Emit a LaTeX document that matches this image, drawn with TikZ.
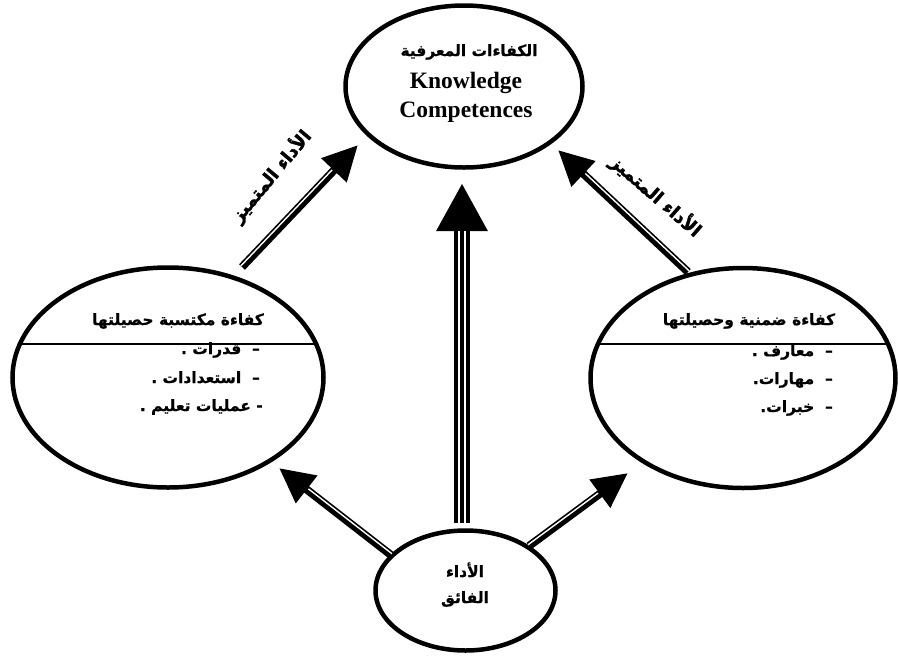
\documentclass[tikz,border=0pt]{standalone}
\usepackage{fontspec}
\setmainfont{Liberation Serif}
\newfontfamily\arabicfont[Script=Arabic, FakeBold=0.8]{DejaVu Sans Bold}
\newfontfamily\arabiclab[Script=Arabic, FakeBold=2]{DejaVu Sans Bold}
\TeXXeTstate=1
\usetikzlibrary{shapes.geometric,arrows.meta,calc}
\begin{document}
\begin{tikzpicture}[x=1pt,y=-1pt,
  oval/.style={draw, line width=4.5pt, ellipse, inner sep=0pt},
  shaft/.style={line width=8pt, -{Triangle[length=35pt,width=33pt]}},
  bigshaft/.style={line width=16pt, -{Triangle[length=48pt,width=48pt]}},
  stripe/.style={white, line width=1.4pt},
  ar/.style={font=\arabicfont\fontsize{15.5}{18}\selectfont, inner sep=0pt},
  artitle/.style={font=\arabicfont\fontsize{15.5}{18}\selectfont, inner sep=0pt},
  arlabel/.style={font=\arabiclab\fontsize{18}{21}\selectfont, inner sep=0pt},
  en/.style={font=\bfseries\fontsize{23.5}{28}\selectfont, inner sep=0pt},
  sep/.style={line width=1.3pt}
]
\useasboundingbox (0,0) rectangle (898,657);

% ellipses
\node[oval, minimum width=237pt, minimum height=162pt] (T) at (464,86.5) {};
\node[oval, minimum width=311pt, minimum height=220pt] (L) at (168,377.5) {};
\node[oval, minimum width=305pt, minimum height=220pt] (R) at (743,378) {};
\node[oval, minimum width=180pt, minimum height=120pt] (B) at (465.5,590.5) {};

% separators
\begin{scope}
  \clip (L.center) ellipse [x radius=155.5, y radius=110];
  \draw[sep] (0,344) -- (898,344);
\end{scope}
\begin{scope}
  \clip (R.center) ellipse [x radius=152.5, y radius=110];
  \draw[sep] (0,344) -- (898,344);
\end{scope}

% arrow end points
\coordinate (sBL) at (391,555);
\coordinate (tBL) at (279,468);
\coordinate (sBR) at (529,546);
\coordinate (tBR) at (628,473);
\coordinate (sM) at (462,523);
\coordinate (tM) at (462,183);
\coordinate (sUL) at (242,267);
\coordinate (tUL) at (358,145);
\coordinate (sUR) at (688,272);
\coordinate (tUR) at (558,150);

% diagonal arrows
\draw[shaft] (sBL) -- (tBL);
\draw[stripe] ($(sBL)!1.6pt!-90:(tBL)$) -- ($($(tBL)!36pt!(sBL)$)!1.6pt!90:(sBL)$);
\draw[shaft] (sBR) -- (tBR);
\draw[stripe] ($(sBR)!1.6pt!90:(tBR)$) -- ($($(tBR)!36pt!(sBR)$)!1.6pt!-90:(sBR)$);
\draw[shaft] (sUL) -- (tUL);
\draw[stripe] ($(sUL)!1.6pt!90:(tUL)$) -- ($($(tUL)!36pt!(sUL)$)!1.6pt!-90:(sUL)$);
\draw[shaft] (sUR) -- (tUR);
\draw[stripe] ($(sUR)!1.6pt!-90:(tUR)$) -- ($($(tUR)!36pt!(sUR)$)!1.6pt!90:(sUR)$);

% middle arrow
\draw[bigshaft] (sM) -- (tM);
\draw[white, line width=2pt] ($(sM)+(-3,0)$) -- ($(tM)+(-3,48)$);
\draw[white, line width=2pt] ($(sM)+(3,0)$) -- ($(tM)+(3,48)$);

% top texts
\node[artitle, anchor=base] (t1) at (469,56) {\beginR الكفاءات المعرفية\endR};
\node[en, anchor=base] (t2) at (466,88) {Knowledge};
\node[en, anchor=base] (t3) at (466,117) {Competences};

% left texts
\node[artitle, anchor=base] (l0) at (178,325) {\beginR كفاءة مكتسبة حصيلتها\endR};
\node[ar, anchor=base east] (l1) at (260,354) {\beginR –\ \ قدرات .\endR};
\node[ar, anchor=base east] (l2) at (260,383) {\beginR –\ \ استعدادات .\endR};
\node[ar, anchor=base east] (l3) at (263,411) {\beginR - عمليات تعليم .\endR};

% right texts
\node[artitle, anchor=base] (r0) at (749,325) {\beginR كفاءة ضمنية وحصيلتها\endR};
\node[ar, anchor=base east] (r1) at (833,356) {\beginR –\ \ معارف .\endR};
\node[ar, anchor=base east] (r2) at (833,384) {\beginR –\ \ مهارات\kern0pt.\endR};
\node[ar, anchor=base east] (r3) at (833,412) {\beginR –\ \ خبرات\kern0pt.\endR};

% bottom texts
\node[ar, anchor=base] (b1) at (465,577) {\beginR الأداء\endR};
\node[ar, anchor=base] (b2) at (465,603) {\beginR الفائق\endR};

% rotated labels
\node[arlabel, rotate=50] (lab1) at (271,176) {\beginR الأداء المتميز\endR};
\node[arlabel, rotate=-41] (lab2) at (656,196) {\beginR الأداء المتميز\endR};
\end{tikzpicture}
\end{document}
